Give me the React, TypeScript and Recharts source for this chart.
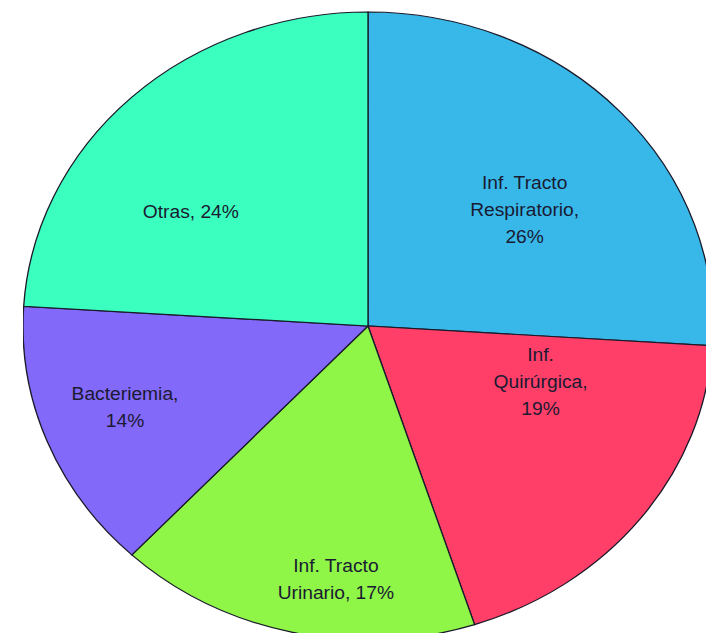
import React from "react";
import { PieChart, Pie, Cell } from "recharts";

const categories = [
  "Inf. Tracto Respiratorio",
  "Inf. Quirúrgica",
  "Inf. Tracto Urinario",
  "Bacteriemia",
  "Otras",
];
const values = [26, 19, 17, 14, 24];
const labelLines = [
  ["Inf. Tracto", "Respiratorio,", "26%"],
  ["Inf.", "Quirúrgica,", "19%"],
  ["Inf. Tracto", "Urinario, 17%"],
  ["Bacteriemia,", "14%"],
  ["Otras, 24%"],
];

const COLORS = ["#37b8e9", "#ff3f68", "#8ff547", "#8369fa", "#3affbf"];
// label placement: share of radius, and a nudge (degrees, clockwise) off the slice's mid angle
const LABEL_R = [0.586, 0.53, 0.81, 0.75, 0.63];
const LABEL_TURN = [4, -18.5, -6, 1.5, -11.4];
const RAD = Math.PI / 180;
const LINE_H = 27;

const data = categories.map((name, i) => ({ name, value: values[i] }));

const renderLabel = (props: any) => {
  const { cx, cy, midAngle, outerRadius, index } = props;
  const r = outerRadius * LABEL_R[index];
  const a = midAngle - LABEL_TURN[index];
  const x = cx + r * Math.cos(-a * RAD);
  const y = cy + r * Math.sin(-a * RAD);
  const lines = labelLines[index];
  const top = y - ((lines.length - 1) * LINE_H) / 2;
  return (
    <text
      x={x}
      y={top}
      textAnchor="middle"
      dominantBaseline="central"
      fill="#1a1a32"
      fontSize={17.5}
      fontFamily="'Liberation Sans', Arial, sans-serif"
    >
      {lines.map((l, i) => (
        <tspan key={i} x={x} dy={i === 0 ? 0 : LINE_H}>
          {l}
        </tspan>
      ))}
    </text>
  );
};

export default function App() {
  return (
    <div style={{ position: "relative", width: 714, height: 641, margin: -8, overflow: "hidden", background: "#fff" }}>
      <div
        style={{
          position: "absolute",
          left: 23,
          top: 0,
          transform: "scaleX(1.0987)",
          transformOrigin: "0 0",
        }}
      >
        <PieChart width={628} height={641} margin={{ top: 0, right: 0, bottom: 0, left: 0 }}>
          <Pie
            data={data}
            dataKey="value"
            cx={314}
            cy={326}
            outerRadius={314}
            startAngle={90}
            endAngle={-270}
            stroke="#1a1a2a"
            strokeWidth={1.2}
            label={renderLabel}
            labelLine={false}
            isAnimationActive={false}
          >
            {data.map((entry, index) => (
              <Cell key={`cell-${index}`} fill={COLORS[index]} />
            ))}
          </Pie>
        </PieChart>
      </div>
    </div>
  );
}
